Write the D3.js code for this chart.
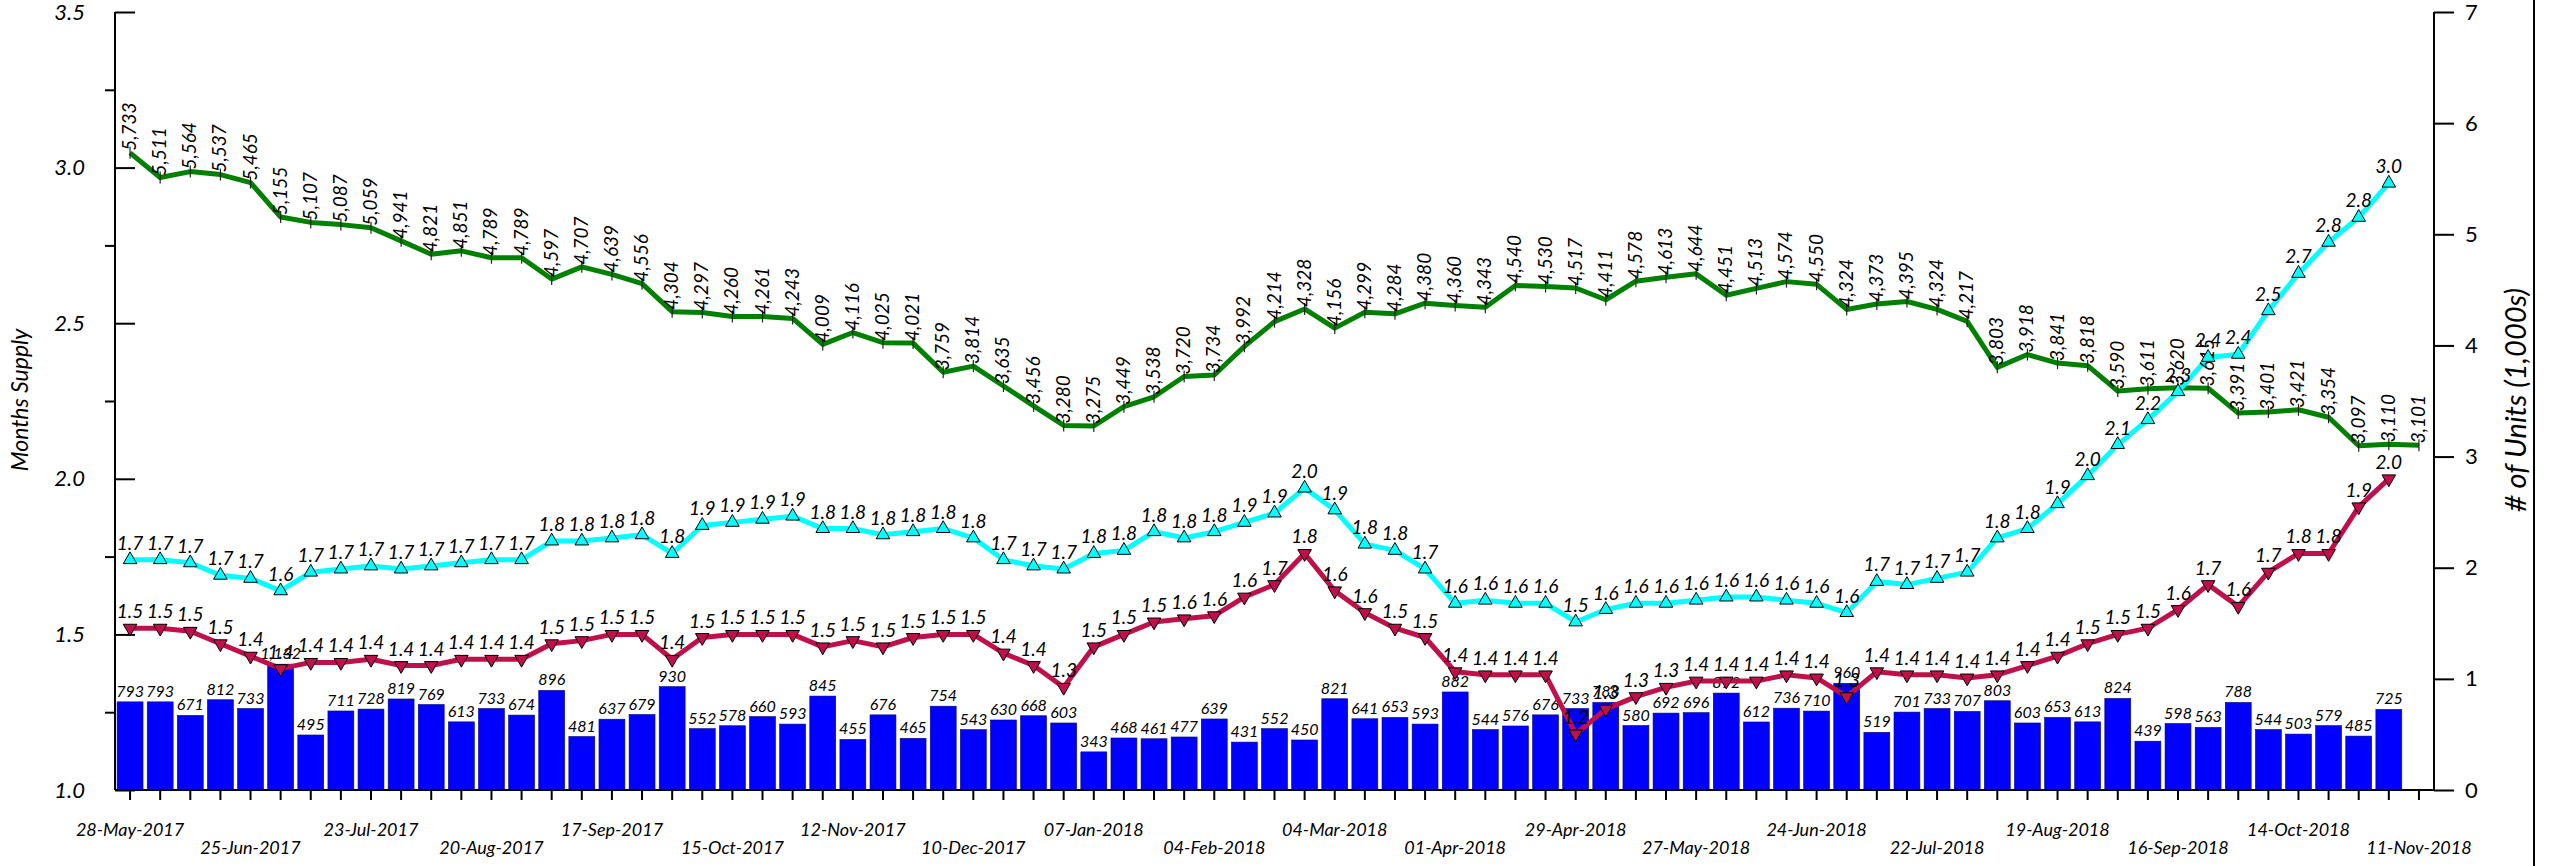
<!DOCTYPE html>
<html>
<head>
<meta charset="utf-8">
<script src="https://cdnjs.cloudflare.com/ajax/libs/d3/7.8.5/d3.min.js"></script>
<style>
	body { margin: 0; background: #fff; }
	text { font-family: Lato, "Open Sans", sans-serif; }
</style>
</head>
<body>
<svg id="chart" width="2553" height="866"></svg>
<script>
(function() {
	"use strict";

	// weekly periods, first week ending 28-May-2017
	var firstWeek = new Date(2017, 4, 28);

	// active listings (units) - one more week than the other series
	var activeUnits = [5733, 5511, 5564, 5537, 5465, 5155, 5107, 5087, 5059, 4941,
		4821, 4851, 4789, 4789, 4597, 4707, 4639, 4556, 4304, 4297,
		4260, 4261, 4243, 4009, 4116, 4025, 4021, 3759, 3814, 3635,
		3456, 3280, 3275, 3449, 3538, 3720, 3734, 3992, 4214, 4328,
		4156, 4299, 4284, 4380, 4360, 4343, 4540, 4530, 4517, 4411,
		4578, 4613, 4644, 4451, 4513, 4574, 4550, 4324, 4373, 4395,
		4324, 4217, 3803, 3918, 3841, 3818, 3590, 3611, 3620, 3615,
		3391, 3401, 3421, 3354, 3097, 3110, 3101];

	// weekly sales (units)
	var weeklySales = [793, 793, 671, 812, 733, 1132, 495, 711, 728, 819,
		769, 613, 733, 674, 896, 481, 637, 679, 930, 552,
		578, 660, 593, 845, 455, 676, 465, 754, 543, 630,
		668, 603, 343, 468, 461, 477, 639, 431, 552, 450,
		821, 641, 653, 593, 882, 544, 576, 676, 733, 788,
		580, 692, 696, 872, 612, 736, 710, 960, 519, 701,
		733, 707, 803, 603, 653, 613, 824, 439, 598, 563,
		788, 544, 503, 579, 485, 725];

	// months supply (cyan, triangles up)
	var supplyA = [1.74, 1.74, 1.73, 1.69, 1.68, 1.64, 1.70, 1.71, 1.72, 1.71,
		1.72, 1.73, 1.74, 1.74, 1.80, 1.80, 1.81, 1.82, 1.76, 1.85,
		1.86, 1.87, 1.88, 1.84, 1.84, 1.82, 1.83, 1.84, 1.81, 1.74,
		1.72, 1.71, 1.76, 1.77, 1.83, 1.81, 1.83, 1.86, 1.89, 1.97,
		1.90, 1.79, 1.77, 1.71, 1.60, 1.61, 1.60, 1.60, 1.54, 1.58,
		1.60, 1.60, 1.61, 1.62, 1.62, 1.61, 1.60, 1.57, 1.67, 1.66,
		1.68, 1.70, 1.81, 1.84, 1.92, 2.01, 2.11, 2.19, 2.28, 2.39,
		2.40, 2.54, 2.66, 2.76, 2.84, 2.95];

	// months supply (crimson, triangles down)
	var supplyB = [1.52, 1.52, 1.51, 1.47, 1.43, 1.39, 1.41, 1.41, 1.42, 1.40,
		1.40, 1.42, 1.42, 1.42, 1.47, 1.48, 1.50, 1.50, 1.42, 1.49,
		1.50, 1.50, 1.50, 1.46, 1.48, 1.46, 1.49, 1.50, 1.50, 1.44,
		1.40, 1.33, 1.46, 1.50, 1.54, 1.55, 1.56, 1.62, 1.66, 1.76,
		1.64, 1.57, 1.52, 1.49, 1.38, 1.37, 1.37, 1.37, 1.18, 1.26,
		1.30, 1.33, 1.35, 1.35, 1.35, 1.37, 1.36, 1.30, 1.38, 1.37,
		1.37, 1.36, 1.37, 1.40, 1.43, 1.47, 1.50, 1.52, 1.58, 1.66,
		1.59, 1.70, 1.76, 1.76, 1.91, 2.00];

	var dateTickLabels = ["28-May-2017", "25-Jun-2017", "23-Jul-2017", "20-Aug-2017",
		"17-Sep-2017", "15-Oct-2017", "12-Nov-2017", "10-Dec-2017", "07-Jan-2018",
		"04-Feb-2018", "04-Mar-2018", "01-Apr-2018", "29-Apr-2018", "27-May-2018",
		"24-Jun-2018", "22-Jul-2018", "19-Aug-2018", "16-Sep-2018", "14-Oct-2018",
		"11-Nov-2018"];

	var leftTicks = [1.0, 1.5, 2.0, 2.5, 3.0, 3.5];
	var leftMinorTicks = [1.25, 1.75, 2.25, 2.75, 3.25];
	var rightTicks = [0, 1, 2, 3, 4, 5, 6, 7];

	var plot = { left: 115, right: 2434, top: 12, bottom: 790 };

	var weeks = activeUnits.map(function (d, i) { return d3.timeWeek.offset(firstWeek, i); });

	var svg = d3.select('#chart');

	var x = d3.scaleBand()
		.domain(weeks)
		.range([plot.left, plot.right])
		.paddingInner(0.14)
		.paddingOuter(0.07);

	var cx = function (i) { return x(weeks[i]) + x.bandwidth() / 2; };

	var yLeft = d3.scaleLinear().domain([1, 3.5]).range([plot.bottom, plot.top]);
	var yRight = d3.scaleLinear().domain([0, 7]).range([plot.bottom, plot.top]);

	var fmtComma = d3.format(',');
	var fmt1 = d3.format('.1f');

	// frame line on the far right
	svg.append('line')
		.attr('x1', 2534).attr('x2', 2534)
		.attr('y1', 0).attr('y2', 866)
		.attr('stroke', '#000')
		.attr('stroke-width', 2);

	// bars
	svg.append('g')
		.selectAll('rect')
		.data(weeklySales)
		.enter()
		.append('rect')
		.attr('x', function (d, i) { return x(weeks[i]); })
		.attr('width', x.bandwidth())
		.attr('y', function (d) { return yRight(d / 1000); })
		.attr('height', function (d) { return plot.bottom - yRight(d / 1000); })
		.attr('fill', '#0000ff')
		.attr('stroke', '#000080')
		.attr('stroke-width', 0.6);

	svg.append('g')
		.selectAll('text')
		.data(weeklySales)
		.enter()
		.append('text')
		.attr('x', function (d, i) { return cx(i); })
		.attr('y', function (d) { return yRight(d / 1000) - 5; })
		.attr('text-anchor', 'middle')
		.style('font-size', '16px')
		.style('font-style', 'italic')
		.text(fmtComma);

	// axes
	var gLeft = svg.append('g').attr('transform', 'translate(' + plot.left + ',0)');
	gLeft.call(d3.axisLeft(yLeft).tickValues(leftTicks).tickSize(-20).tickPadding(30).tickFormat(fmt1));
	gLeft.select('.domain').attr('d', 'M0,' + plot.top + 'V' + plot.bottom);

	var gLeftMinor = svg.append('g').attr('transform', 'translate(' + plot.left + ',0)');
	gLeftMinor.call(d3.axisLeft(yLeft).tickValues(leftMinorTicks).tickSize(10).tickFormat(''));
	gLeftMinor.select('.domain').remove();

	var gRight = svg.append('g').attr('transform', 'translate(' + plot.right + ',0)');
	gRight.call(d3.axisRight(yRight).tickValues(rightTicks).tickSize(20).tickPadding(11).tickFormat(d3.format('d')));
	gRight.select('.domain').attr('d', 'M0,' + plot.top + 'V' + plot.bottom);

	[gLeft, gLeftMinor, gRight].forEach(function (g) {
		g.selectAll('line, path').attr('stroke', '#000').attr('stroke-width', 2);
		g.selectAll('text').style('font-size', '22px').attr('fill', '#000');
	});
	gLeft.selectAll('text').style('font-style', 'italic');

	var gBottom = svg.append('g').attr('transform', 'translate(0,' + plot.bottom + ')');
	gBottom.call(d3.axisBottom(x).tickSize(10).tickFormat(''));
	gBottom.select('.domain').attr('d', 'M' + plot.left + ',0H' + plot.right);
	gBottom.selectAll('line, path').attr('stroke', '#000').attr('stroke-width', 2);

	gBottom.selectAll('.date-label')
		.data(dateTickLabels)
		.enter()
		.append('text')
		.attr('class', 'date-label')
		.attr('x', function (d, i) { return cx(i * 4); })
		.attr('y', function (d, i) { return i % 2 === 0 ? 46 : 64; })
		.attr('text-anchor', 'middle')
		.attr('fill', '#000')
		.style('font-size', '18px')
		.style('font-style', 'italic')
		.text(function (d) { return d; });

	// axis titles
	svg.append('text')
		.attr('transform', 'translate(28,400) rotate(-90)')
		.attr('text-anchor', 'middle')
		.style('font-size', '23px')
		.style('font-style', 'italic')
		.text('Months Supply');

	svg.append('text')
		.attr('transform', 'translate(2526,400) rotate(-90)')
		.attr('text-anchor', 'middle')
		.style('font-size', '29px')
		.style('font-style', 'italic')
		.text('# of Units (1,000s)');

	// lines
	function drawLine(values, yScale, color) {
		var line = d3.line()
			.x(function (d, i) { return cx(i); })
			.y(function (d) { return yScale(d); });
		svg.append('path')
			.datum(values)
			.attr('d', line)
			.attr('fill', 'none')
			.attr('stroke', color)
			.attr('stroke-width', 5)
			.attr('stroke-linejoin', 'round');
	}

	var unitsK = activeUnits.map(function (d) { return d / 1000; });
	drawLine(unitsK, yRight, '#008000');
	drawLine(supplyA, yLeft, '#00ffff');
	drawLine(supplyB, yLeft, '#c0104a');

	// green markers and rotated labels
	var gGreen = svg.append('g');
	gGreen.selectAll('line')
		.data(unitsK)
		.enter()
		.append('line')
		.attr('x1', function (d, i) { return cx(i); })
		.attr('x2', function (d, i) { return cx(i); })
		.attr('y1', function (d) { return yRight(d) - 6; })
		.attr('y2', function (d) { return yRight(d) + 6; })
		.attr('stroke', '#222')
		.attr('stroke-width', 1.2);
	gGreen.selectAll('text')
		.data(activeUnits)
		.enter()
		.append('text')
		.attr('transform', function (d, i) {
			return 'translate(' + (cx(i) + 6) + ',' + (yRight(d / 1000) - 2) + ') rotate(-90)';
		})
		.style('font-size', '19px')
		.style('font-style', 'italic')
		.text(fmtComma);

	function drawMarkers(values, color, up) {
		var tri = d3.symbol().type(d3.symbolTriangle).size(80);
		var g = svg.append('g');
		g.selectAll('path')
			.data(values)
			.enter()
			.append('path')
			.attr('d', tri)
			.attr('transform', function (d, i) {
				return 'translate(' + cx(i) + ',' + yLeft(d) + ')' + (up ? '' : ' rotate(180)');
			})
			.attr('fill', color)
			.attr('stroke', '#000')
			.attr('stroke-width', 1);
		g.selectAll('text')
			.data(values)
			.enter()
			.append('text')
			.attr('x', function (d, i) { return cx(i); })
			.attr('y', function (d) { return yLeft(d) - 10; })
			.attr('text-anchor', 'middle')
			.style('font-size', '19px')
			.style('font-style', 'italic')
			.text(fmt1);
	}

	drawMarkers(supplyA, '#00ffff', true);
	drawMarkers(supplyB, '#c0104a', false);
}());
</script>
</body>
</html>
